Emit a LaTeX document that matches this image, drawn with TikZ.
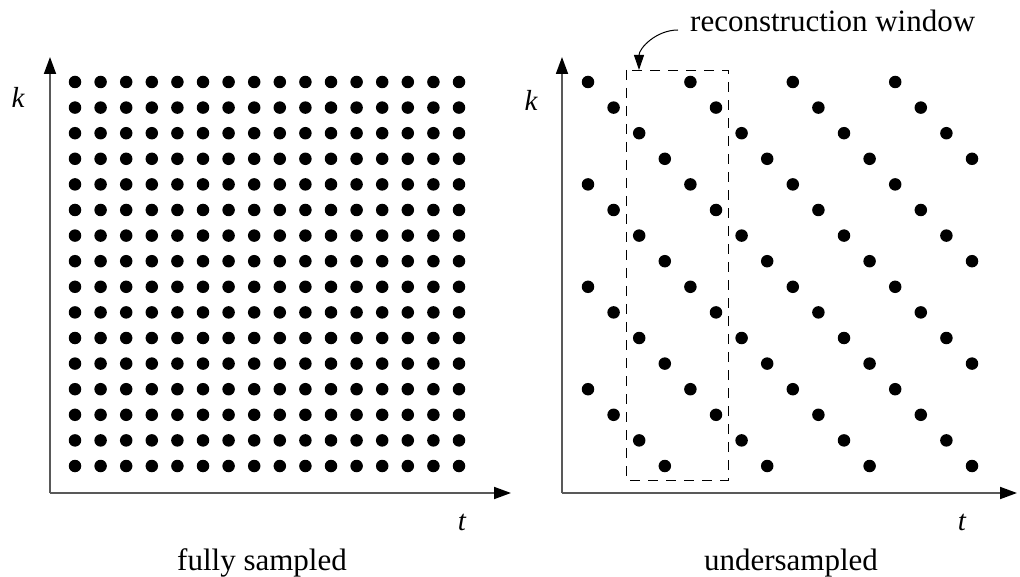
\documentclass[tikz,border=0pt]{standalone}
\usepackage{fontspec}
\setmainfont{Liberation Serif}
\usepackage{tikz}
\usetikzlibrary{positioning,arrows.meta}

\begin{document}
\begin{tikzpicture}[x=1pt, y=-1pt,
  dot/.style={circle, fill, inner sep=0pt, minimum size=12.5pt},
  ax/.style={draw=black!65, line width=1.8pt, -{Triangle[length=17pt,width=12pt,black]}},
  win/.style={draw, line width=0.9pt, dash pattern=on 10pt off 8pt},
  lbl/.style={font=\fontsize{31}{36}\selectfont, inner sep=0pt},
  var/.style={font=\fontsize{29}{34}\selectfont\itshape, inner sep=0pt},
  arr/.style={line width=1pt, -{Triangle[length=15pt,width=10pt]}}]
\useasboundingbox (0,0) rectangle (1020,577);
\def\sp{25.6}
% left: fully sampled
\coordinate (o1) at (50,493);
\coordinate (y1) at (50,57);
\coordinate (x1) at (511,493);
\draw[ax] (o1) -- (y1);
\draw[ax] (o1) -- (x1);
\foreach \c in {0,...,15} \foreach \r in {0,...,15}
  \node[dot] (f\c-\r) at ({75+\c*\sp},{82+\r*\sp}) {};
\node[var] (k1) at (18,97) {k};
\node[var] (t1) at (462,522) {t};
\node[lbl, anchor=base] (fs) at (262,570) {fully sampled};
% right: undersampled
\coordinate (o2) at (562,493);
\coordinate (y2) at (562,57);
\coordinate (x2) at (1017,493);
\draw[ax] (o2) -- (y2);
\draw[ax] (o2) -- (x2);
\foreach \c in {0,...,15} \foreach \r in {0,...,15} {
  \pgfmathtruncatemacro\m{mod(\r-\c+16,4)}
  \ifnum\m=0 \node[dot] (u\c-\r) at ({588+\c*\sp},{82+\r*\sp}) {}; \fi}
\node[var] (k2) at (531,100) {k};
\node[var] (t2) at (962,522) {t};
\node[lbl, anchor=base] (us) at (791,570) {undersampled};
% reconstruction window
\coordinate (w1) at (626,70);
\coordinate (w2) at (728,480);
\coordinate (wt) at (639,70);
\draw[win] (w1) rectangle (w2);
\node[lbl, anchor=base west] (rw) at (690,32) {reconstruction window};
\draw[arr] ([xshift=-12pt,yshift=2pt]rw.base west) to[out=180,in=90] (wt);
\end{tikzpicture}
\end{document}
